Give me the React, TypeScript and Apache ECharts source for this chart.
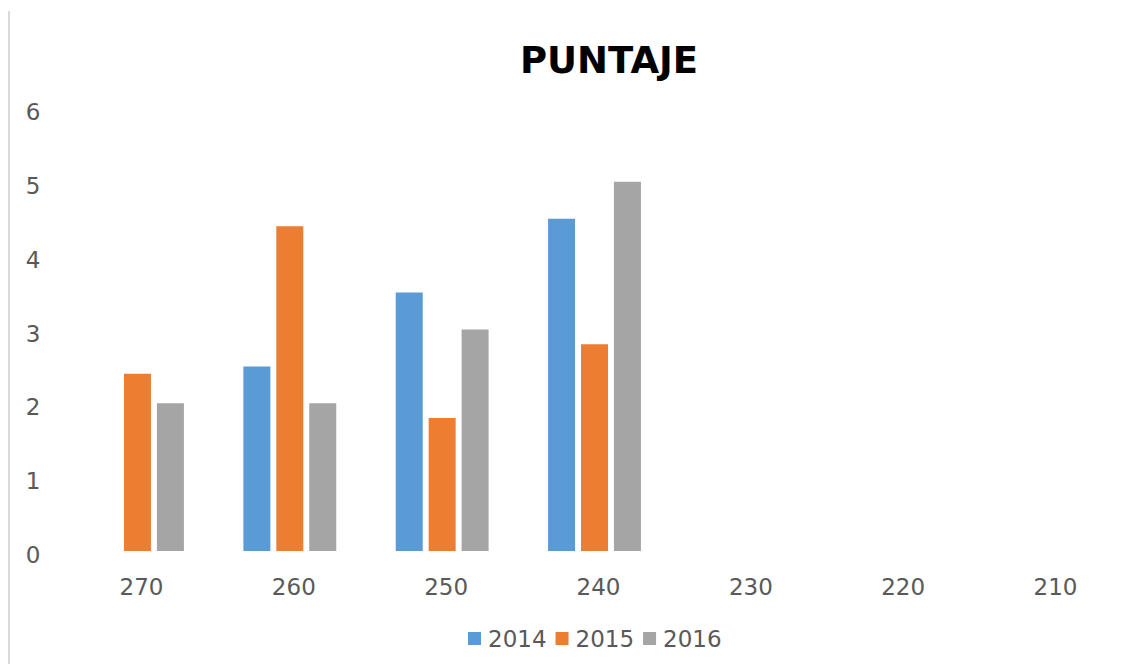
import React, { useEffect, useRef } from "react";
import * as echarts from "echarts";

const categories = ["270", "260", "250", "240", "230", "220", "210"];
const series2014 = [null, 2.5, 3.5, 4.5, null, null, null];
const series2015 = [2.4, 4.4, 1.8, 2.8, null, null, null];
const series2016 = [2.0, 2.0, 3.0, 5.0, null, null, null];
const seriesNames = ["2014", "2015", "2016"];
const colors = ["#5B9BD5", "#ED7D31", "#A5A5A5"];
const titleText = "PUNTAJE";

export default function App() {
  const ref = useRef<HTMLDivElement>(null);
  useEffect(() => {
    if (!ref.current) return;
    const chart = echarts.init(ref.current, null, { renderer: "svg" });
    const font = "DejaVu Sans";
    const data = [series2014, series2015, series2016];
    chart.setOption({
      animation: false,
      backgroundColor: "#ffffff",
      color: colors,
      title: {
        text: titleText,
        left: 604,
        textAlign: "center",
        top: 37,
        textStyle: { fontFamily: font, fontWeight: "bold", fontSize: 37, color: "#000000" },
      },
      legend: {
        data: seriesNames,
        bottom: 14,
        left: 468,
        padding: 0,
        itemWidth: 13,
        itemHeight: 13,
        itemGap: 9,
        icon: "rect",
        textStyle: {
          fontFamily: font,
          fontSize: 23,
          color: "#595959",
          padding: [7, 0, 0, 2],
        },
      },
      graphic: [
        {
          type: "line",
          shape: { x1: 9, y1: 11, x2: 9, y2: 664 },
          style: { stroke: "#d9d9d9", lineWidth: 2 },
        },
      ],
      grid: { left: 61.3, right: 16.3, top: 108, bottom: 113 },
      xAxis: {
        type: "category",
        data: categories,
        axisLine: { show: false },
        axisTick: { show: false },
        axisLabel: {
          fontFamily: font,
          fontSize: 23,
          color: "#595959",
          margin: 24,
          padding: [0, 0, 0, 8],
        },
      },
      yAxis: {
        type: "value",
        min: 0,
        max: 6,
        interval: 1,
        splitLine: { show: false },
        axisLine: { show: false },
        axisTick: { show: false },
        axisLabel: {
          fontFamily: font,
          fontSize: 23,
          color: "#595959",
          margin: 21,
          verticalAlign: "top",
          lineHeight: 8,
        },
      },
      series: seriesNames.map((name, i) => ({
        name,
        type: "bar",
        data: data[i],
        barWidth: 27,
        barGap: "22%",
        itemStyle: { color: colors[i] },
      })),
    });
    return () => chart.dispose();
  }, []);
  return (
    <div
      ref={ref}
      style={{ position: "absolute", left: 0, top: 0, width: 1144, height: 664 }}
    />
  );
}
